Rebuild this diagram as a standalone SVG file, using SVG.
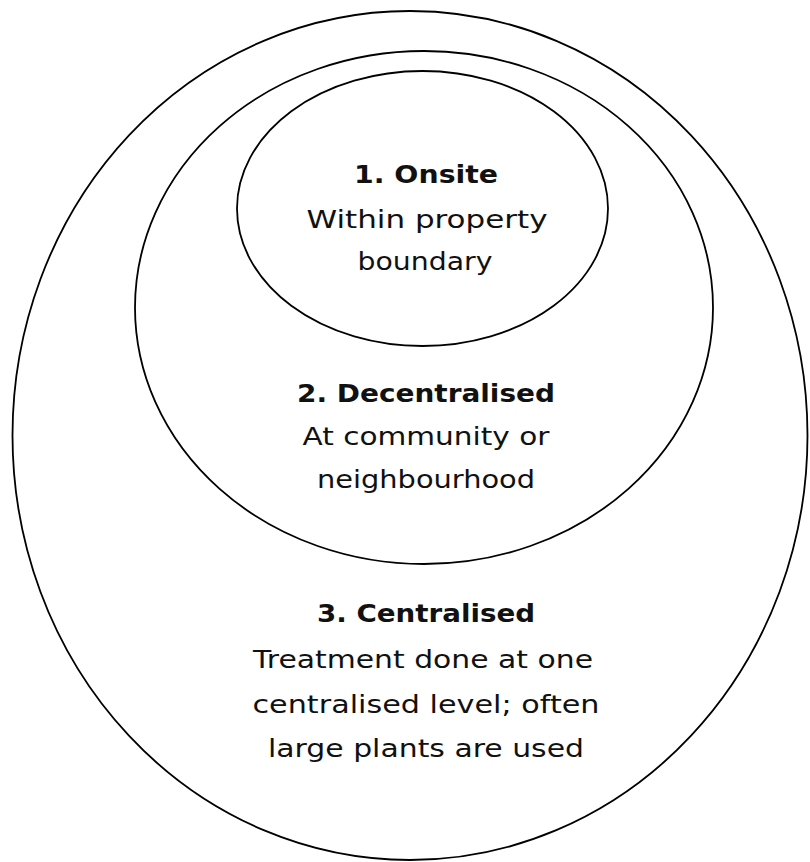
<svg xmlns="http://www.w3.org/2000/svg" width="810" height="862" viewBox="0 0 810 862">
<style>
.ring{fill:none;stroke:#000;stroke-width:1.8}
.t{font-family:"DejaVu Sans","Liberation Sans",sans-serif;font-size:25px;fill:#111;text-anchor:middle}
.b{font-weight:bold}
</style>
<rect width="810" height="862" fill="#fff"/>
<g id="centralised">
<ellipse class="ring" cx="410" cy="435.5" rx="397.5" ry="424.5" stroke-width="2.2"/>
<text class="t b" x="426" y="622" textLength="218" lengthAdjust="spacingAndGlyphs">3. Centralised</text>
<text class="t" x="423" y="668" textLength="340" lengthAdjust="spacingAndGlyphs">Treatment done at one</text>
<text class="t" x="426" y="713" textLength="347" lengthAdjust="spacingAndGlyphs">centralised level; often</text>
<text class="t" x="426" y="757" textLength="316" lengthAdjust="spacingAndGlyphs">large plants are used</text>
</g>
<g id="decentralised">
<ellipse class="ring" cx="424" cy="307.5" rx="289" ry="256.5"/>
<text class="t b" x="426" y="402" textLength="258" lengthAdjust="spacingAndGlyphs">2. Decentralised</text>
<text class="t" x="426" y="445" textLength="247" lengthAdjust="spacingAndGlyphs">At community or</text>
<text class="t" x="426" y="488" textLength="218" lengthAdjust="spacingAndGlyphs">neighbourhood</text>
</g>
<g id="onsite">
<ellipse class="ring" cx="422.5" cy="208.5" rx="185.5" ry="137.5"/>
<text class="t b" x="426" y="183" textLength="144" lengthAdjust="spacingAndGlyphs">1. Onsite</text>
<text class="t" x="427" y="228" textLength="241" lengthAdjust="spacingAndGlyphs">Within property</text>
<text class="t" x="425" y="270" textLength="135" lengthAdjust="spacingAndGlyphs">boundary</text>
</g>
<g id="connectors"/>
</svg>
